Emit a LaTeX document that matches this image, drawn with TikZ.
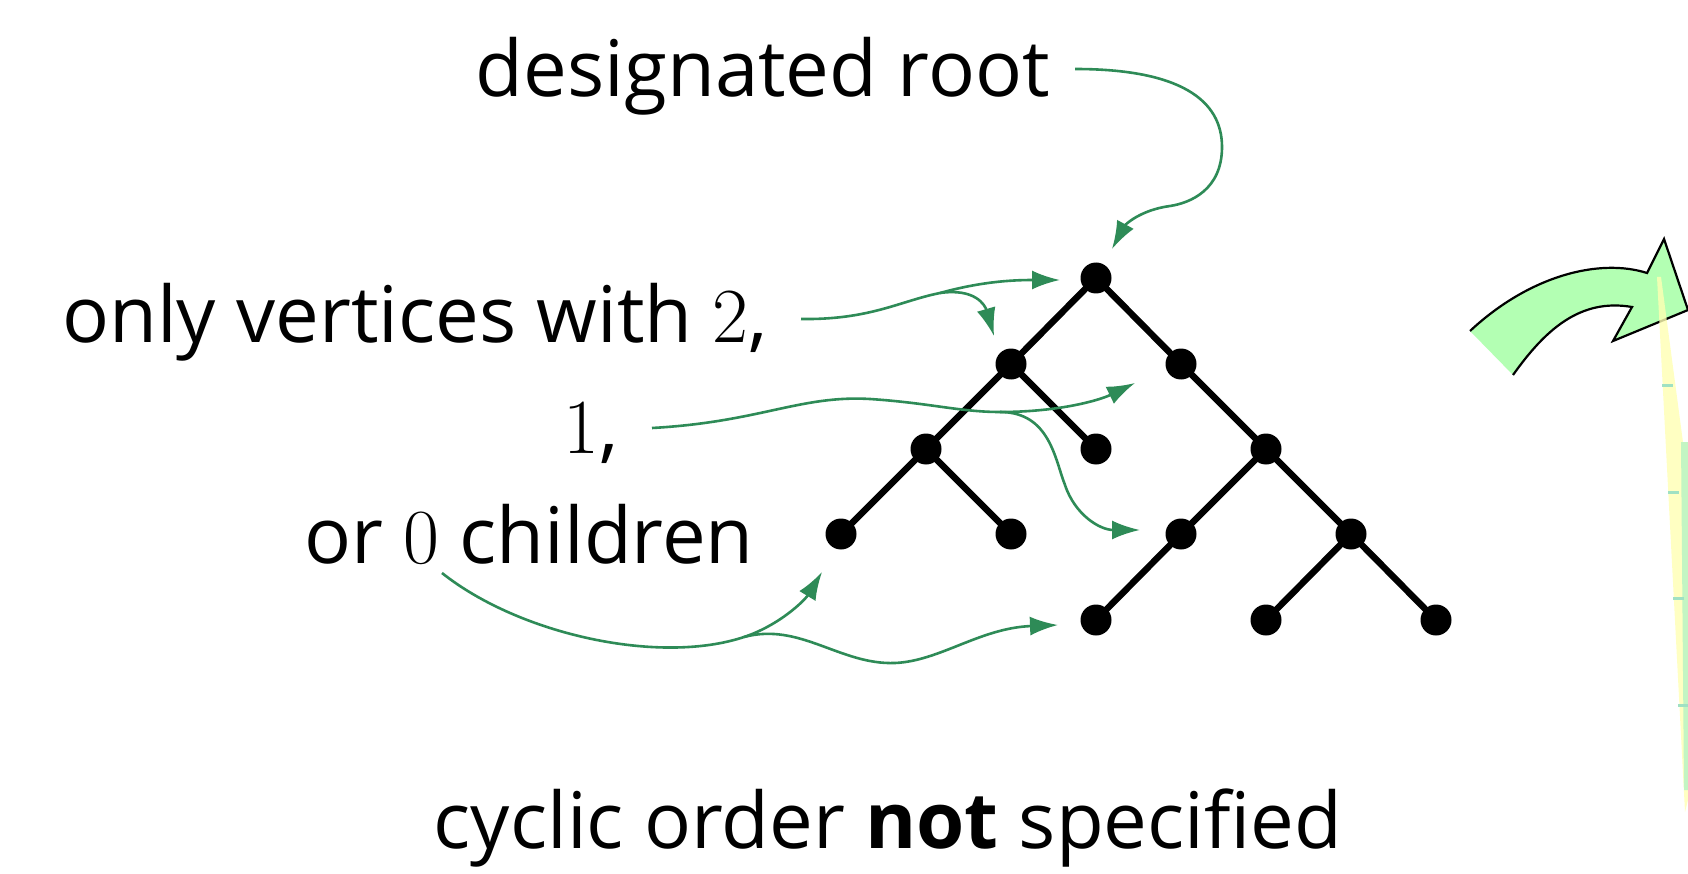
\documentclass[tikz,border=0pt]{standalone}
\usepackage{fontspec}
\setmainfont{Open Sans}
\newfontfamily\digitfont{Latin Modern Roman}
\usetikzlibrary{arrows.meta}

\definecolor{linkgreen}{RGB}{46,139,87}
\definecolor{bigarrow}{RGB}{179,255,179}
\definecolor{paleyellow}{RGB}{255,255,179}
\definecolor{palegreen}{RGB}{195,245,195}
\definecolor{tickteal}{RGB}{160,225,195}

\newcommand{\dg}[1]{{\digitfont #1}}

\tikzset{
  vertex/.style={circle, fill=black, inner sep=0pt, minimum size=31pt},
  treeedge/.style={line width=6.5pt},
  link/.style={draw=linkgreen, line width=2.6pt, -{Latex[length=28pt,width=19pt]}},
  linkpart/.style={draw=linkgreen, line width=2.6pt},
  lbl/.style={font=\fontsize{78}{84}\selectfont, inner sep=0pt},
}

\begin{document}
\begin{tikzpicture}[x=1pt,y=-1pt]
\useasboundingbox (0,0) rectangle (1688,874);
\fill[white] (0,0) rectangle (1688,874);

% labels
\node[lbl, anchor=base east] (lroot) at (1050,97) {designated root};
\node[lbl, anchor=base east] (ltwo) at (768,342) {only vertices with \dg{2},};
\node[lbl, anchor=base east] (lone) at (619,453) {\dg{1},};
\node[lbl, anchor=base east] (lzero) at (754,563) {or \dg{0} children};
\node[lbl, anchor=base] (lcyc) at (888,848) {cyclic order \textbf{not} specified};

% tree vertices
\node[vertex] (r)    at (1096,278) {};
\node[vertex] (a)    at (1011,364) {};
\node[vertex] (b)    at (1181,364) {};
\node[vertex] (aa)   at (926,449) {};
\node[vertex] (ab)   at (1096,449) {};
\node[vertex] (bb)   at (1266,449) {};
\node[vertex] (aaa)  at (841,534) {};
\node[vertex] (aab)  at (1011,534) {};
\node[vertex] (bba)  at (1181,534) {};
\node[vertex] (bbb)  at (1351,534) {};
\node[vertex] (bbaa) at (1096,620) {};
\node[vertex] (bbba) at (1266,620) {};
\node[vertex] (bbbb) at (1436,620) {};

% tree edges
\foreach \p/\c in {r/a, r/b, a/aa, a/ab, b/bb, aa/aaa, aa/aab, bb/bba, bb/bbb, bba/bbaa, bbb/bbba, bbb/bbbb}
  \draw[treeedge] (\p.center) -- (\c.center);

% pointer ends and branch points
\coordinate (s0) at (1075,69);
\coordinate (t0) at (1112,249);
\coordinate (s2) at (801,319);
\coordinate (j2) at (940,293);
\coordinate (t2r) at (1060,280);
\coordinate (t2a) at (994,336);
\coordinate (s1) at (652,428);
\coordinate (j1) at (1000,412);
\coordinate (t1b) at (1135,383);
\coordinate (t1d) at (1140,530);
\coordinate (sz) at (442,573);
\coordinate (jz) at (744,637);
\coordinate (tz1) at (822,572);
\coordinate (tz2) at (1058,625);

% designated root
\draw[link] (s0) .. controls (1180,69) and (1222,100) .. (1222,147)
  .. controls (1222,190) and (1190,203) .. (1170,206)
  .. controls (1140,210) and (1125,225) .. (t0);

% two children
\draw[link] (s2) .. controls (870,320) and (900,301) .. (j2)
  .. controls (980,282) and (1010,280) .. (t2r);
\draw[link] (j2) .. controls (975,288) and (985,305) .. (t2a);

% one child
\draw[linkpart] (s1) .. controls (760,422) and (800,395) .. (870,399)
  .. controls (930,403) and (960,412) .. (j1);
\draw[link] (j1) .. controls (1060,412) and (1100,400) .. (t1b);
\draw[link] (j1) .. controls (1050,412) and (1055,460) .. (1065,485)
  .. controls (1075,515) and (1100,530) .. (t1d);

% no children
\draw[linkpart] (sz) .. controls (520,635) and (660,665) .. (jz);
\draw[link] (jz) .. controls (780,625) and (805,600) .. (tz1);
\draw[link] (jz) .. controls (800,622) and (840,665) .. (895,663)
  .. controls (940,661) and (980,628) .. (tz2);

% big curved arrow at the right edge
\fill[bigarrow] (1470,331) .. controls (1530,275) and (1600,258) .. (1647,273)
  -- (1664,239) -- (1688,310) -- (1613,341) -- (1632,307)
  .. controls (1580,298) and (1545,330) .. (1513,375) -- cycle;
\draw[line width=2.2pt, line join=miter] (1470,331) .. controls (1530,275) and (1600,258) .. (1647,273)
  -- (1664,239) -- (1688,310) -- (1613,341) -- (1632,307)
  .. controls (1580,298) and (1545,330) .. (1513,375);

% strip at the right edge
\fill[paleyellow, opacity=0.8] (1657,277) -- (1661,277) -- (1688,480) -- (1688,800) -- (1685,812) -- cycle;
\fill[palegreen] (1681,442) -- (1688,442) -- (1688,790) -- (1684,790) -- cycle;
\foreach \ya/\xa in {385/1662, 492/1668, 598/1673, 705/1678}
  \draw[tickteal, line width=3pt] (\xa,\ya) -- ++(11,0);
\end{tikzpicture}
\end{document}
